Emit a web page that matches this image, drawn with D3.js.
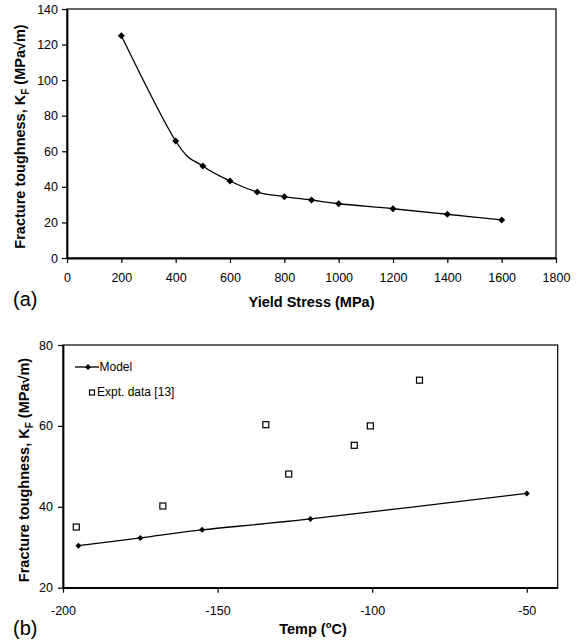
<!DOCTYPE html>
<html>
<head>
<meta charset="utf-8">
<script src="https://cdn.jsdelivr.net/npm/d3@7"></script>
<style>
  body { margin: 0; background: #fff; }
  svg { display: block; font-family: "Liberation Sans", Arial, sans-serif; }
  .tick text { font-size: 12.5px; fill: #000; }
  .axis-title { font-size: 14.5px; font-weight: bold; }
</style>
</head>
<body>
<svg id="chart" width="582" height="641"></svg>
<script>
// panel (a): fracture toughness vs yield stress
var yieldStress = [200, 400, 500, 600, 700, 800, 900, 1000, 1200, 1400, 1600];
var toughnessA  = [125, 65.8, 51.7, 43.3, 37.1, 34.5, 32.6, 30.5, 27.7, 24.6, 21.4];
var xTicksA = d3.range(0, 1801, 200);
var yTicksA = d3.range(0, 141, 20);

// panel (b): fracture toughness vs temperature
var modelTemp  = [-195, -175, -155, -120, -50];
var modelKF    = [30.4, 32.3, 34.3, 37.0, 43.3];
var exptTemp   = [-195.7, -167.7, -134.4, -127, -105.8, -100.6, -84.7];
var exptKF     = [35.0, 40.2, 60.3, 48.1, 55.2, 60.0, 71.3];
var xTicksB = [-200, -150, -100, -50];
var yTicksB = [20, 40, 60, 80];

var svg = d3.select("#chart");

function diamond(x, y, r) {
  return "M" + x + "," + (y - r) + "L" + (x + r) + "," + y +
         "L" + x + "," + (y + r) + "L" + (x - r) + "," + y + "Z";
}

function drawPanel(opt) {
  var g = svg.append("g");
  var x = d3.scaleLinear().domain(opt.xDomain).range([opt.left, opt.right]);
  var y = d3.scaleLinear().domain(opt.yDomain).range([opt.bottom, opt.top]);

  // frame
  g.append("rect")
      .attr("x", opt.left)
      .attr("y", opt.top)
      .attr("width", opt.right - opt.left)
      .attr("height", opt.bottom - opt.top)
      .attr("fill", "none")
      .attr("stroke", "#000")
      .attr("stroke-width", 1.2);

  var fmt = d => String(d);   // plain hyphen for negatives, as in the original

  var xAxis = d3.axisBottom(x)
                .tickValues(opt.xTicks)
                .tickSize(5)
                .tickSizeOuter(0)
                .tickPadding(opt.xPad)
                .tickFormat(fmt);
  var yAxis = d3.axisLeft(y)
                .tickValues(opt.yTicks)
                .tickSize(5)
                .tickSizeOuter(0)
                .tickPadding(opt.yPad)
                .tickFormat(fmt);

  var gx = g.append("g")
      .attr("transform", "translate(0," + opt.bottom + ")")
      .call(xAxis);
  var gy = g.append("g")
      .attr("transform", "translate(" + opt.left + ",0)")
      .call(yAxis);
  [gx, gy].forEach(function(a) {
    a.attr("font-family", null).attr("font-size", null);
    a.select(".domain").attr("stroke-width", 1.8);
    a.selectAll(".tick line").attr("stroke-width", 1.2);
  });

  return { g: g, x: x, y: y };
}

// ---------- panel (a)
var pa = drawPanel({
  left: 67, right: 556, top: 9, bottom: 258,
  xDomain: [0, 1800], yDomain: [0, 140],
  xTicks: xTicksA, yTicks: yTicksA, xPad: 10.5, yPad: 4
});

var dataA = yieldStress.map((d, i) => ({ x: d, y: toughnessA[i] }));

pa.g.append("path")
    .datum(dataA)
    .attr("fill", "none")
    .attr("stroke", "#000")
    .attr("stroke-width", 1.3)
    .attr("d", d3.line()
                 .curve(d3.curveCardinal.tension(0))
                 .x(d => pa.x(d.x))
                 .y(d => pa.y(d.y)));

pa.g.selectAll(".mk")
  .data(dataA)
  .enter()
  .append("path")
    .attr("d", d => diamond(pa.x(d.x), pa.y(d.y), 3.5))
    .attr("fill", "#000");

pa.g.append("text")
    .classed("axis-title", true)
    .attr("x", 311.5)
    .attr("y", 307)
    .attr("text-anchor", "middle")
    .text("Yield Stress (MPa)");

var ta = pa.g.append("text")
    .classed("axis-title", true)
    .attr("transform", "translate(25,136.5) rotate(-90)")
    .attr("text-anchor", "middle");
ta.append("tspan").text("Fracture toughness, K");
ta.append("tspan").attr("font-size", "10px").attr("dy", 4).text("F");
ta.append("tspan").attr("dy", -4).text(" (MPa\u221Am)");

svg.append("text")
    .attr("x", 13)
    .attr("y", 306)
    .attr("font-size", "20px")
    .text("(a)");

// ---------- panel (b)
var pb = drawPanel({
  left: 63, right: 557.7, top: 345, bottom: 587.7,
  xDomain: [-200, -40], yDomain: [20, 80],
  xTicks: xTicksB, yTicks: yTicksB, xPad: 13.4, yPad: 5
});

var modelData = modelTemp.map((d, i) => ({ x: d, y: modelKF[i] }));
var exptData = exptTemp.map((d, i) => ({ x: d, y: exptKF[i] }));

pb.g.append("path")
    .datum(modelData)
    .attr("fill", "none")
    .attr("stroke", "#000")
    .attr("stroke-width", 1.3)
    .attr("d", d3.line()
                 .curve(d3.curveCardinal.tension(0))
                 .x(d => pb.x(d.x))
                 .y(d => pb.y(d.y)));

pb.g.selectAll(".mk")
  .data(modelData)
  .enter()
  .append("path")
    .attr("d", d => diamond(pb.x(d.x), pb.y(d.y), 3))
    .attr("fill", "#000");

pb.g.selectAll(".sq")
  .data(exptData)
  .enter()
  .append("rect")
    .attr("x", d => pb.x(d.x) - 3)
    .attr("y", d => pb.y(d.y) - 3)
    .attr("width", 6)
    .attr("height", 6)
    .attr("fill", "#fff")
    .attr("stroke", "#000")
    .attr("stroke-width", 1.2);

// legend
var lg = pb.g.append("g");
lg.append("line")
    .attr("x1", 75).attr("x2", 99)
    .attr("y1", 367).attr("y2", 367)
    .attr("stroke", "#000")
    .attr("stroke-width", 1.3);
lg.append("path")
    .attr("d", diamond(88, 367, 3))
    .attr("fill", "#000");
lg.append("text")
    .attr("x", 99.5)
    .attr("y", 371)
    .attr("font-size", "12px")
    .text("Model");
lg.append("rect")
    .attr("x", 89.5).attr("y", 390)
    .attr("width", 5).attr("height", 5)
    .attr("fill", "#fff")
    .attr("stroke", "#000")
    .attr("stroke-width", 1.2);
lg.append("text")
    .attr("x", 97)
    .attr("y", 395.5)
    .attr("font-size", "12px")
    .text("Expt. data [13]");

var tb = pb.g.append("text")
    .classed("axis-title", true)
    .attr("x", 313)
    .attr("y", 634)
    .attr("text-anchor", "middle");
tb.append("tspan").text("Temp (");
tb.append("tspan").attr("font-size", "9.5px").attr("dy", -6).text("o");
tb.append("tspan").attr("dy", 6).text("C)");

var tyb = pb.g.append("text")
    .classed("axis-title", true)
    .attr("transform", "translate(29,470) rotate(-90)")
    .attr("text-anchor", "middle");
tyb.append("tspan").text("Fracture toughness, K");
tyb.append("tspan").attr("font-size", "10px").attr("dy", 4).text("F");
tyb.append("tspan").attr("dy", -4).text(" (MPa\u221Am)");

svg.append("text")
    .attr("x", 13)
    .attr("y", 635)
    .attr("font-size", "20px")
    .text("(b)");
</script>
</body>
</html>
